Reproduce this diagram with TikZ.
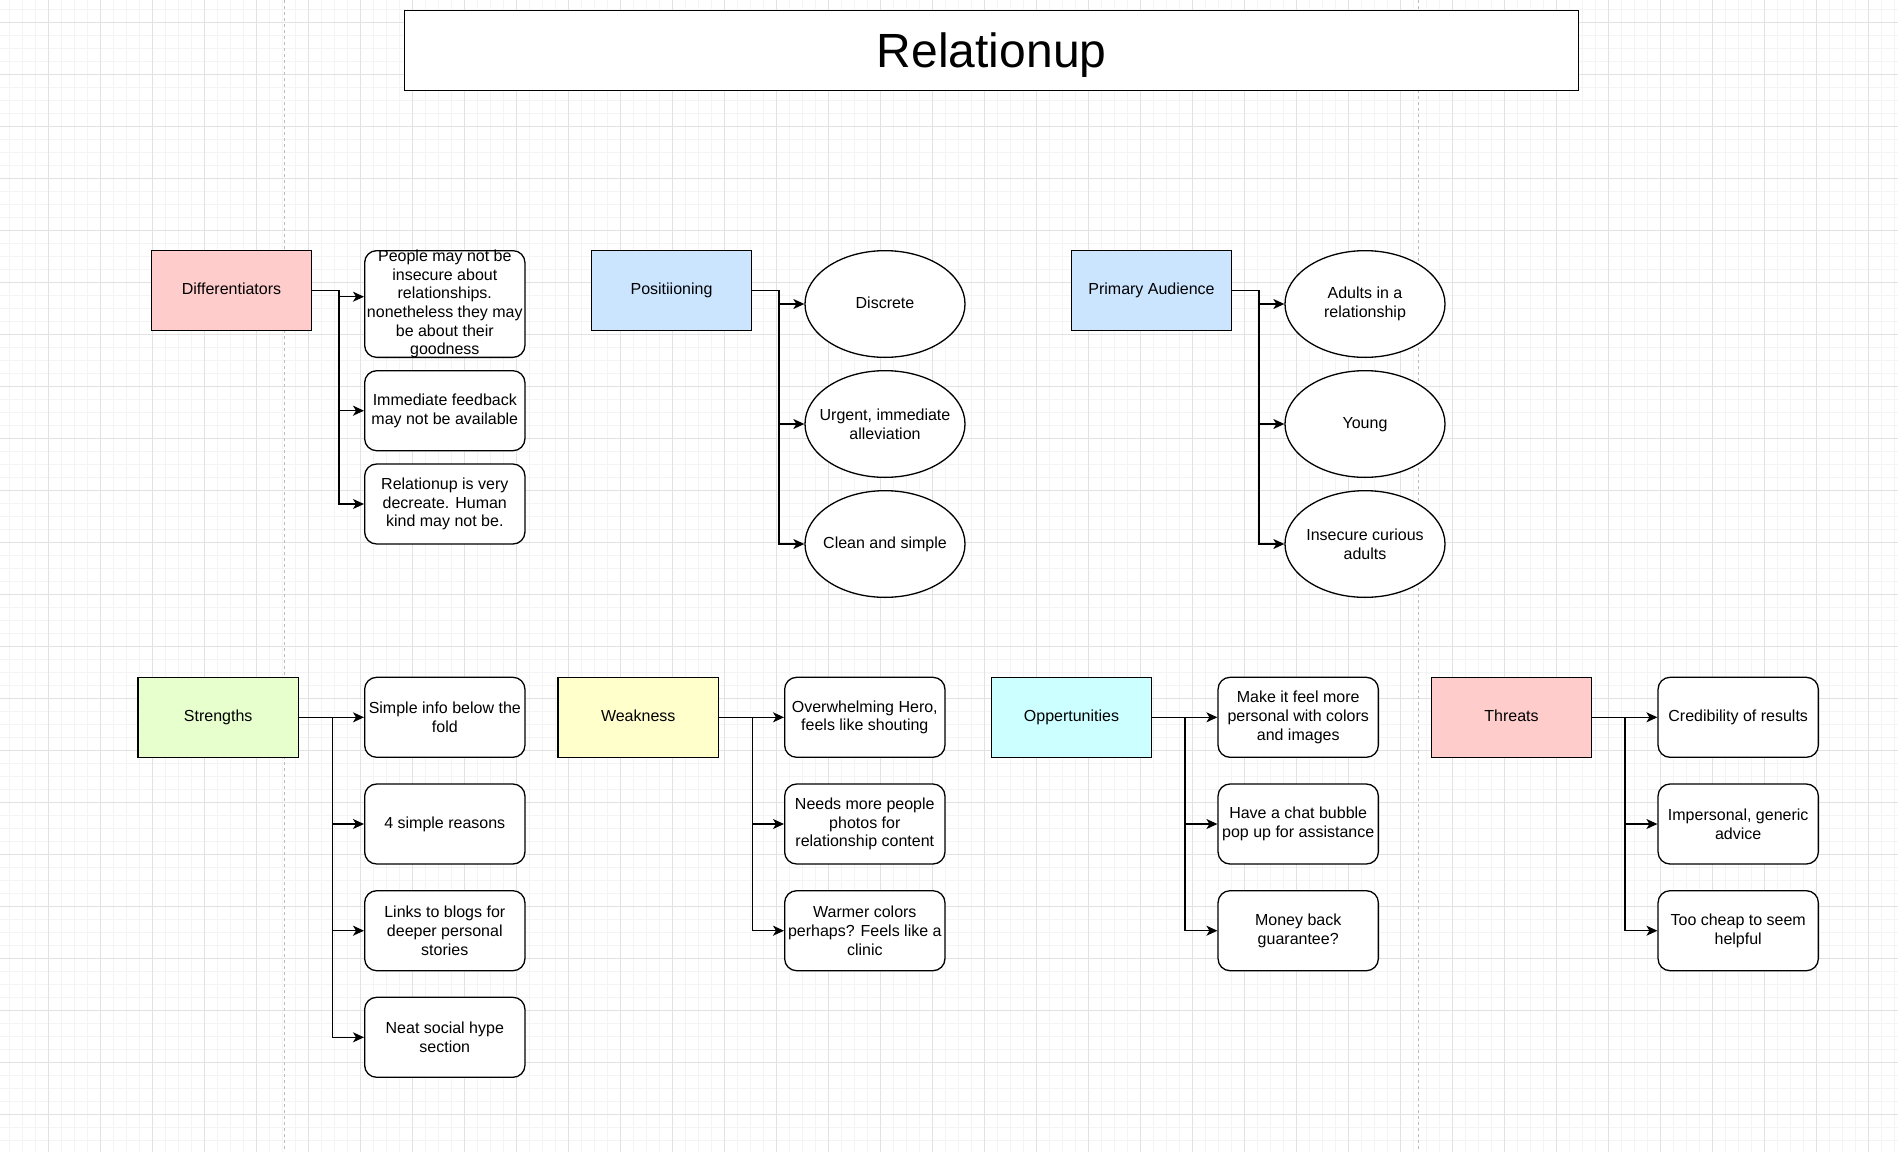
\documentclass[tikz,border=0pt]{standalone}
\usepackage{fontspec}
\setmainfont{Liberation Sans}
\usetikzlibrary{arrows.meta,shapes.geometric}
\definecolor{gridmajor}{HTML}{E2E2E2}
\definecolor{gridminor}{HTML}{F4F4F4}
\definecolor{guide}{HTML}{BDBDBD}
\definecolor{redfill}{HTML}{FFCCCC}
\definecolor{bluefill}{HTML}{CCE5FF}
\definecolor{greenfill}{HTML}{E6FFCC}
\definecolor{yellowfill}{HTML}{FFFFCC}
\definecolor{cyanfill}{HTML}{CCFFFF}
\begin{document}
\begin{tikzpicture}[x=1pt,y=-1pt,
  txt/.style={font=\fontsize{16}{18.7}\selectfont, align=center, text=black},
  oneline/.style={text height=11.5pt, text depth=3.5pt},
  hdr/.style={txt, oneline, draw, line width=1.3pt, minimum width=160.4pt, minimum height=80pt, inner sep=0pt},
  item/.style={txt, draw, fill=white, rounded corners=12pt, line width=1.3pt, minimum width=160.3pt, minimum height=80pt, inner sep=0pt},
  oval/.style={draw, fill=white, ellipse, line width=1.3pt, minimum width=160pt, minimum height=106.7pt, inner sep=0pt},
  conn/.style={line width=1.3pt, -{Stealth[length=11pt,width=10pt,inset=3pt]}},
  minorline/.style={gridminor, line width=0.8pt},
  majorline/.style={gridmajor, line width=0.9pt},
  guideline/.style={guide, line width=1pt, dash pattern=on 3pt off 3pt},
]
\useasboundingbox (0,0) rectangle (1898,1152);
\fill[white] (0,0) rectangle (1898,1152);
% grid
\foreach \k in {-3,...,142} { \draw[minorline] ({48+13*\k},0) -- ({48+13*\k},1152); }
\foreach \k in {-1,...,86} { \draw[minorline] (0,{22.7+13*\k}) -- (1898,{22.7+13*\k}); }
\foreach \k in {-1,...,35} { \draw[majorline] ({48+52*\k},0) -- ({48+52*\k},1152); }
\foreach \k in {0,...,21} { \draw[majorline] (0,{22.7+52*\k}) -- (1898,{22.7+52*\k}); }
% page guides
\draw[guideline] (284.7,0) -- (284.7,1152);
\draw[guideline] (1418,0) -- (1418,1152);

% title
\node[draw, fill=white, line width=1.3pt, minimum width=1174pt, minimum height=79.6pt, inner sep=0pt,
      text height=34.5pt, text depth=0pt,
      font=\fontsize{48}{56}\selectfont] (title) at (991.7,50.5) {Relationup};

% ---------- Differentiators ----------
\node[hdr, fill=redfill] (dif) at (231.5,290.3) {Differentiators};
\node[item, minimum height=106.7pt] (dif1) at (444.8,304) {};
\node[txt, inner sep=0pt] (dif1t) at (dif1.center) {People may not be\\insecure about\\relationships.\\nonetheless they may\\be about their\\goodness};
\node[item] (dif2) at (444.8,410.7) {Immediate feedback\\may not be available};
\node[item] (dif3) at (444.8,504) {Relationup is very\\decreate. Human\\kind may not be.};
\draw[conn] (dif.east) -- ++(26.6,0) |- ([yshift=7.3pt]dif1.west);
\draw[conn] (dif.east) -- ++(26.6,0) |- (dif2.west);
\draw[conn] (dif.east) -- ++(26.6,0) |- (dif3.west);

% ---------- Positioning ----------
\node[hdr, fill=bluefill] (pos) at (671.5,290.3) {Positiioning};
\node[oval] (pos1) at (885,304) {};
\node[txt, oneline, inner sep=0pt] (pos1t) at (pos1.center) {Discrete};
\node[oval] (pos2) at (885,424) {};
\node[txt, inner sep=0pt] (pos2t) at (pos2.center) {Urgent, immediate\\alleviation};
\node[oval] (pos3) at (885,544) {};
\node[txt, oneline, inner sep=0pt] (pos3t) at (pos3.center) {Clean and simple};
\draw[conn] (pos.east) -- ++(26.6,0) |- (pos1.west);
\draw[conn] (pos.east) -- ++(26.6,0) |- (pos2.west);
\draw[conn] (pos.east) -- ++(26.6,0) |- (pos3.west);

% ---------- Primary Audience ----------
\node[hdr, fill=bluefill] (aud) at (1151.5,290.3) {Primary Audience};
\node[oval] (aud1) at (1365,304) {};
\node[txt, inner sep=0pt] (aud1t) at (aud1.center) {Adults in a\\relationship};
\node[oval] (aud2) at (1365,424) {};
\node[txt, oneline, inner sep=0pt] (aud2t) at (aud2.center) {Young};
\node[oval] (aud3) at (1365,544) {};
\node[txt, inner sep=0pt] (aud3t) at (aud3.center) {Insecure curious\\adults};
\draw[conn] (aud.east) -- ++(26.6,0) |- (aud1.west);
\draw[conn] (aud.east) -- ++(26.6,0) |- (aud2.west);
\draw[conn] (aud.east) -- ++(26.6,0) |- (aud3.west);

% ---------- Strengths ----------
\node[hdr, fill=greenfill] (str) at (218.2,717.3) {Strengths};
\node[item] (str1) at (444.8,717.3) {Simple info below the\\fold};
\node[item, oneline] (str2) at (444.8,824) {4 simple reasons};
\node[item] (str3) at (444.8,930.7) {Links to blogs for\\deeper personal\\stories};
\node[item] (str4) at (444.8,1037.3) {Neat social hype\\section};
\draw[conn] (str.east) -- ++(33.4,0) |- (str1.west);
\draw[conn] (str.east) -- ++(33.4,0) |- (str2.west);
\draw[conn] (str.east) -- ++(33.4,0) |- (str3.west);
\draw[conn] (str.east) -- ++(33.4,0) |- (str4.west);

% ---------- Weakness ----------
\node[hdr, fill=yellowfill] (wea) at (638.2,717.3) {Weakness};
\node[item] (wea1) at (864.8,717.3) {Overwhelming Hero,\\feels like shouting};
\node[item] (wea2) at (864.8,824) {Needs more people\\photos for\\relationship content};
\node[item] (wea3) at (864.8,930.7) {Warmer colors\\perhaps? Feels like a\\clinic};
\draw[conn] (wea.east) -- ++(33.4,0) |- (wea1.west);
\draw[conn] (wea.east) -- ++(33.4,0) |- (wea2.west);
\draw[conn] (wea.east) -- ++(33.4,0) |- (wea3.west);

% ---------- Oppertunities ----------
\node[hdr, fill=cyanfill] (opp) at (1071.5,717.3) {Oppertunities};
\node[item] (opp1) at (1298.2,717.3) {Make it feel more\\personal with colors\\and images};
\node[item] (opp2) at (1298.2,824) {Have a chat bubble\\pop up for assistance};
\node[item] (opp3) at (1298.2,930.7) {Money back\\guarantee?};
\draw[conn] (opp.east) -- ++(32.6,0) |- (opp1.west);
\draw[conn] (opp.east) -- ++(32.6,0) |- (opp2.west);
\draw[conn] (opp.east) -- ++(32.6,0) |- (opp3.west);

% ---------- Threats ----------
\node[hdr, fill=redfill] (thr) at (1511.5,717.3) {Threats};
\node[item, oneline] (thr1) at (1738.2,717.3) {Credibility of results};
\node[item] (thr2) at (1738.2,824) {Impersonal, generic\\advice};
\node[item] (thr3) at (1738.2,930.7) {Too cheap to seem\\helpful};
\draw[conn] (thr.east) -- ++(32.6,0) |- (thr1.west);
\draw[conn] (thr.east) -- ++(32.6,0) |- (thr2.west);
\draw[conn] (thr.east) -- ++(32.6,0) |- (thr3.west);
\end{tikzpicture}
\end{document}
